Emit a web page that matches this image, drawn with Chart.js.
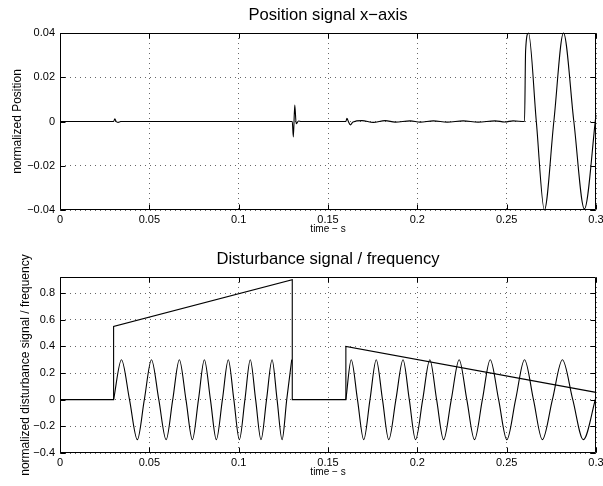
<!DOCTYPE html>
<html>
<head>
<meta charset="utf-8">
<script src="https://cdn.jsdelivr.net/npm/chart.js"></script>
<style>
  body { margin: 0; background: #fff; }
  #wrap { position: relative; width: 603px; height: 486px; }
  canvas { position: absolute; left: 0; }
</style>
</head>
<body>
<div id="wrap">
  <canvas id="posChart" width="603" height="243" style="top:0"></canvas>
  <canvas id="distChart" width="603" height="243" style="top:243px"></canvas>
</div>
<script>
// top plot: position signal, x-axis
const posTime = [0, 0.0300, 0.0307, 0.0314, 0.0325, 0.0340,
  0.1300, 0.1306, 0.1314, 0.1322, 0.1335, 0.1350,
  0.1600, 0.1606, 0.1614, 0.1625, 0.1640, 0.1690, 0.1753, 0.1820, 0.1876, 0.1960, 0.2016,
  0.2090, 0.2167, 0.2257, 0.2340, 0.2435, 0.2490, 0.2536, 0.2600,
  0.2606, 0.2622, 0.2666, 0.2711, 0.2764, 0.2818, 0.2876, 0.2935, 0.3000];
const posValue = [0, 0, 0.0012, 0, -0.0004, 0,
  0, -0.0070, 0.0074, -0.0010, 0.0002, 0,
  0, 0.0014, 0, -0.0015, -0.0002, 0.0004, -0.0004, 0.0004, -0.0003, 0.0003, -0.0003,
  0.0003, -0.0003, 0.0003, -0.0003, 0.0003, -0.0002, 0.0003, 0,
  0.032, 0.040, 0, -0.040, 0, 0.040, 0, -0.0395, 0.003];

// bottom plot: normalized frequency (steps + ramps)
const freqTime  = [0, 0.03, 0.03, 0.13, 0.13, 0.16, 0.16, 0.30];
const freqValue = [0, 0, 0.55, 0.90, 0, 0, 0.40, 0.055];

// bottom plot: disturbance signal, first burst
const dist1Time = [0.0300, 0.0344, 0.0389, 0.0433, 0.0472, 0.0512, 0.0553, 0.0594, 0.0631, 0.0668,
  0.0705, 0.0741, 0.0775, 0.0808, 0.0842, 0.0875, 0.0909, 0.0942, 0.0973, 0.1004,
  0.1035, 0.1065, 0.1095, 0.1125, 0.1156, 0.1187, 0.1215, 0.1243, 0.1269, 0.1297];
const dist1Value = [0, 0.3, 0, -0.3, 0, 0.3, 0, -0.3, 0, 0.3,
  0, -0.3, 0, 0.3, 0, -0.3, 0, 0.3, 0, -0.3,
  0, 0.3, 0, -0.3, 0, 0.3, 0, -0.3, 0, 0.3];

// bottom plot: disturbance signal, second burst
const dist2Time = [0.1600, 0.1630, 0.1665, 0.1700, 0.1735, 0.1770, 0.1805, 0.1840, 0.1880, 0.1920,
  0.1955, 0.1990, 0.2030, 0.2070, 0.2108, 0.2147, 0.2190, 0.2234, 0.2277, 0.2320,
  0.2364, 0.2408, 0.2455, 0.2501, 0.2550, 0.2600, 0.2650, 0.2700, 0.2756, 0.2812,
  0.2870, 0.2929, 0.3000];
const dist2Value = [0, 0.3, 0, -0.3, 0, 0.3, 0, -0.3, 0, 0.3,
  0, -0.3, 0, 0.3, 0, -0.3, 0, 0.3, 0, -0.3,
  0, 0.3, 0, -0.3, 0, 0.3, 0, -0.3, 0, 0.3,
  0, -0.3, 0.02];

const xTicks = [0, 0.05, 0.1, 0.15, 0.2, 0.25, 0.3];
const xTickLabels = ['0', '0.05', '0.1', '0.15', '0.2', '0.25', '0.3'];
const posTicks = [-0.04, -0.02, 0, 0.02, 0.04];
const posTickLabels = ['\u22120.04', '\u22120.02', '0', '0.02', '0.04'];
const distTicks = [-0.4, -0.2, 0, 0.2, 0.4, 0.6, 0.8];
const distTickLabels = ['\u22120.4', '\u22120.2', '0', '0.2', '0.4', '0.6', '0.8'];

const FONT = '"Liberation Sans", Arial, Helvetica, sans-serif';
Chart.defaults.font.family = FONT;
Chart.defaults.color = '#000';

function pts(xs, ys) {
    return xs.map((x, i) => ({ x: x, y: ys[i] }));
}

// box around the axes with small inward tick marks (matlab style)
const frameTicks = {
    id: 'frameTicks',
    afterDatasetsDraw(chart) {
        const { ctx, chartArea: a, scales } = chart;
        const L = Math.round(a.left) + 0.5, R = Math.round(a.right) - 0.5;
        const T = Math.round(a.top) + 0.5, B = Math.round(a.bottom) - 0.5;
        ctx.save();
        ctx.strokeStyle = '#000';
        ctx.lineWidth = 1;
        ctx.beginPath();
        ctx.rect(L, T, R - L, B - T);
        scales.x.ticks.forEach(t => {
            const px = Math.round(scales.x.getPixelForValue(t.value)) + 0.5;
            ctx.moveTo(px, T); ctx.lineTo(px, T + 5);
            ctx.moveTo(px, B); ctx.lineTo(px, B - 5);
        });
        scales.y.ticks.forEach(t => {
            const py = Math.round(scales.y.getPixelForValue(t.value)) + 0.5;
            ctx.moveTo(L, py); ctx.lineTo(L + 5, py);
            ctx.moveTo(R, py); ctx.lineTo(R - 5, py);
        });
        ctx.stroke();
        ctx.restore();
    }
};

function makeChart(id, cfg) {
    const ctx = document.getElementById(id).getContext('2d');
    return new Chart(ctx, {
        type: 'line',
        data: { datasets: cfg.datasets },
        options: {
            responsive: false,
            animation: false,
            devicePixelRatio: 1,
            layout: { padding: { left: 0, right: 7, top: 0, bottom: 0 } },
            plugins: {
                legend: { display: false },
                tooltip: { enabled: false },
                title: {
                    display: true,
                    fullSize: false,
                    text: cfg.title,
                    color: '#000',
                    font: { size: 16.6, weight: 'normal' },
                    padding: cfg.titlePad
                }
            },
            scales: {
                x: {
                    type: 'linear', min: 0, max: 0.3,
                    afterBuildTicks: s => { s.ticks = xTicks.map(v => ({ value: v })); },
                    afterFit: s => { s.height = 33; s.paddingLeft = 0; s.paddingRight = 0; },
                    ticks: { callback: (v, i) => xTickLabels[i], font: { size: 11 }, padding: 3, maxRotation: 0, autoSkip: false },
                    grid: { color: 'rgba(0,0,0,0.6)', lineWidth: 1, drawTicks: false },
                    border: { display: false, dash: [1, 4] },
                    title: { display: true, text: 'time \u2212 s', font: { size: 10 }, padding: { top: 0, bottom: 7.5 } }
                },
                y: {
                    type: 'linear', min: cfg.yMin, max: cfg.yMax,
                    afterBuildTicks: s => { s.ticks = cfg.yTicks.map(v => ({ value: v })); },
                    afterFit: s => { s.width = 60; s.paddingTop = 0; s.paddingBottom = 0; },
                    ticks: { callback: (v, i) => cfg.yTickLabels[i], font: { size: 11 }, padding: 5, autoSkip: false },
                    grid: { color: 'rgba(0,0,0,0.6)', lineWidth: 1, drawTicks: false },
                    border: { display: false, dash: [1, 4] },
                    title: { display: true, text: cfg.yTitle, font: { size: 12 }, padding: { top: cfg.yTitlePad, bottom: 0 } }
                }
            }
        },
        plugins: [frameTicks]
    });
}

const lineStyle = { borderColor: '#000', borderWidth: 1.1, pointRadius: 0, fill: false, clip: 3 };

makeChart('posChart', {
    title: 'Position signal x\u2212axis',
    titlePad: { top: 5.5, bottom: 7.6 },
    yMin: -0.04, yMax: 0.04,
    yTicks: posTicks, yTickLabels: posTickLabels,
    yTitle: 'normalized Position', yTitlePad: 10,
    datasets: [
        Object.assign({ data: pts(posTime, posValue), cubicInterpolationMode: 'monotone' }, lineStyle)
    ]
});

makeChart('distChart', {
    title: 'Disturbance signal / frequency',
    titlePad: { top: 6.5, bottom: 7.6 },
    yMin: -0.4, yMax: 0.92,
    yTicks: distTicks, yTickLabels: distTickLabels,
    yTitle: 'normalized disturbance signal / frequency', yTitlePad: 18,
    datasets: [
        Object.assign({ data: pts(freqTime, freqValue), tension: 0 }, lineStyle),
        Object.assign({ data: pts(dist1Time, dist1Value), cubicInterpolationMode: 'monotone' }, lineStyle),
        Object.assign({ data: pts(dist2Time, dist2Value), cubicInterpolationMode: 'monotone' }, lineStyle)
    ]
});
</script>
</body>
</html>
